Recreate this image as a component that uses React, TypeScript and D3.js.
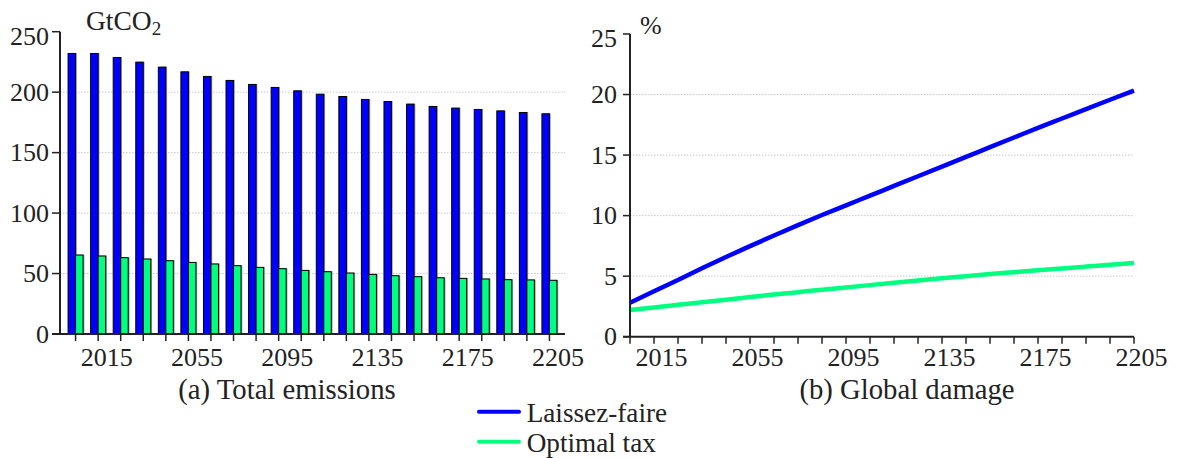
import React from "react";
import * as d3 from "d3";

// Total emissions per period (GtCO2)
const laissezFaireEmissions = [232, 232, 228.7, 224.8, 220.7, 216.8, 213, 209.7, 206.4, 203.9, 201.1, 198.3, 196.4, 194, 192.3, 190.1, 188.2, 186.8, 185.7, 184.5, 183.2, 182.1];
const optimalTaxEmissions = [65.3, 64.5, 63.1, 62, 60.6, 59.2, 57.9, 56.5, 55.1, 54, 52.6, 51.5, 50.4, 49.3, 48.2, 47.4, 46.5, 46, 45.5, 44.9, 44.7, 44.4];

// Global damage per period (% of output)
const laissezFaireDamage = [2.81, 3.75, 4.69, 5.65, 6.58, 7.48, 8.36, 9.22, 10.05, 10.85, 11.65, 12.45, 13.25, 14.05, 14.85, 15.65, 16.45, 17.25, 18.02, 18.8, 19.57, 20.33];
const optimalTaxDamage = [2.2, 2.42, 2.63, 2.84, 3.06, 3.27, 3.48, 3.68, 3.88, 4.07, 4.26, 4.45, 4.64, 4.82, 5.0, 5.17, 5.33, 5.49, 5.64, 5.79, 5.94, 6.09];

const xTickLabels = ["2015", "2055", "2095", "2135", "2175", "2205"];
const xTickPeriods = [1, 5, 9, 13, 17, 21];
const emissionTicks = [0, 50, 100, 150, 200, 250];
const damageTicks = [0, 5, 10, 15, 20, 25];

const seriesNames = ["Laissez-faire", "Optimal tax"];
const seriesColors = ["#0000ff", "#00ff80"];

const FONT = '"Liberation Serif"';
const INK = "#222";

const periods = laissezFaireEmissions.map((_, i) => i);

export default function App() {
  // Panel (a): grouped bars
  const xA = d3.scalePoint<number>().domain(periods).range([60, 565]).padding(0.69);
  const yA = d3.scaleLinear().domain([0, 250]).range([334, 31.7]);
  const barW = 7.5;

  // Panel (b): lines
  const xB = d3.scalePoint<number>().domain(periods).range([630, 1134]).padding(0);
  const yB = d3.scaleLinear().domain([0, 25]).range([336.7, 34]);
  const line = d3
    .line<number>()
    .x((_, i) => xB(i) as number)
    .y((d) => yB(d))
    .curve(d3.curveMonotoneX);

  const emissionSeries = [laissezFaireEmissions, optimalTaxEmissions];
  const damageSeries = [laissezFaireDamage, optimalTaxDamage];

  const txt: React.CSSProperties = { fontFamily: FONT, fill: INK };

  return (
    <svg width={1181} height={458} style={{ position: "absolute", left: 0, top: 0, background: "#fff" }}>
      {/* ---------- (a) Total emissions ---------- */}
      <g>
        {emissionTicks.slice(1, -1).map((t) => (
          <line key={t} x1={60} x2={565} y1={yA(t)} y2={yA(t)} stroke="#c8c8c8" strokeWidth={1} strokeDasharray="1.5 1.5" />
        ))}
        {periods.map((p) =>
          emissionSeries.map((s, k) => {
            const x = (xA(p) as number) - barW + k * barW;
            const y = yA(s[p]);
            const h = yA(0) - y;
            return (
              <g key={`${p}-${k}`}>
                <rect x={x + 1.3} y={y - 0.4} width={barW} height={h} fill="#777" opacity={0.7} />
                <rect x={x} y={y} width={barW} height={h} fill={seriesColors[k]} stroke="#000" strokeWidth={1} />
              </g>
            );
          })
        )}
        {/* axes */}
        <line x1={60} x2={60} y1={yA(250)} y2={yA(0)} stroke={INK} strokeWidth={2} />
        <line x1={52} x2={565} y1={yA(0)} y2={yA(0)} stroke={INK} strokeWidth={2} />
        {emissionTicks.map((t, i) => (
          <g key={t}>
            <line x1={52} x2={60} y1={yA(t)} y2={yA(t)} stroke={INK} strokeWidth={1.5} />
            <text
              x={49}
              y={yA(t) + (i === emissionTicks.length - 1 ? 5 : 0)}
              textAnchor="end"
              dominantBaseline="central"
              fontSize={26}
              style={txt}
            >
              {t}
            </text>
          </g>
        ))}
        {periods.map((p) => (
          <line key={p} x1={xA(p)} x2={xA(p)} y1={yA(0)} y2={yA(0) + 7} stroke={INK} strokeWidth={1.5} />
        ))}
        {xTickPeriods.map((p, i) => (
          <text key={p} x={(xA(p) as number) + 8.5} y={366} textAnchor="middle" fontSize={26} style={txt}>
            {xTickLabels[i]}
          </text>
        ))}
        <text x={86} y={30} fontSize={27.5} style={txt}>
          GtCO<tspan fontSize={19} dy={5}>2</tspan>
        </text>
        <text x={287} y={399} textAnchor="middle" fontSize={28.7} style={txt}>
          (a) Total emissions
        </text>
      </g>

      {/* ---------- (b) Global damage ---------- */}
      <g>
        {damageTicks.slice(1, -1).map((t) => (
          <line key={t} x1={630} x2={1134} y1={yB(t)} y2={yB(t)} stroke="#c8c8c8" strokeWidth={1} strokeDasharray="1.5 1.5" />
        ))}
        {damageSeries.map((s, k) => (
          <path key={k} d={line(s) ?? ""} fill="none" stroke={seriesColors[k]} strokeWidth={4.5} />
        ))}
        <line x1={630} x2={630} y1={yB(25)} y2={yB(0)} stroke={INK} strokeWidth={2} />
        <line x1={623} x2={1134} y1={yB(0)} y2={yB(0)} stroke={INK} strokeWidth={2} />
        {damageTicks.map((t, i) => (
          <g key={t}>
            <line x1={623} x2={630} y1={yB(t)} y2={yB(t)} stroke={INK} strokeWidth={1.5} />
            <text
              x={617}
              y={yB(t) + (i === damageTicks.length - 1 ? 4 : 0)}
              textAnchor="end"
              dominantBaseline="central"
              fontSize={26}
              style={txt}
            >
              {t}
            </text>
          </g>
        ))}
        {periods.map((p) => (
          <line key={p} x1={xB(p)} x2={xB(p)} y1={yB(0)} y2={yB(0) + 7} stroke={INK} strokeWidth={1.5} />
        ))}
        {xTickPeriods.map((p, i) => (
          <text key={p} x={(xB(p) as number) + 7.5} y={366} textAnchor="middle" fontSize={26} style={txt}>
            {xTickLabels[i]}
          </text>
        ))}
        <text x={640} y={34} fontSize={26} style={txt}>
          %
        </text>
        <text x={907} y={399} textAnchor="middle" fontSize={28.7} style={txt}>
          (b) Global damage
        </text>
      </g>

      {/* ---------- legend ---------- */}
      {seriesNames.map((name, k) => (
        <g key={name} transform={`translate(0, ${411.7 + k * 30})`}>
          <line x1={479} x2={519} y1={0} y2={0} stroke={seriesColors[k]} strokeWidth={4} strokeLinecap="round" />
          <text x={526.7} y={10} fontSize={27.2} style={txt}>
            {name}
          </text>
        </g>
      ))}
    </svg>
  );
}
